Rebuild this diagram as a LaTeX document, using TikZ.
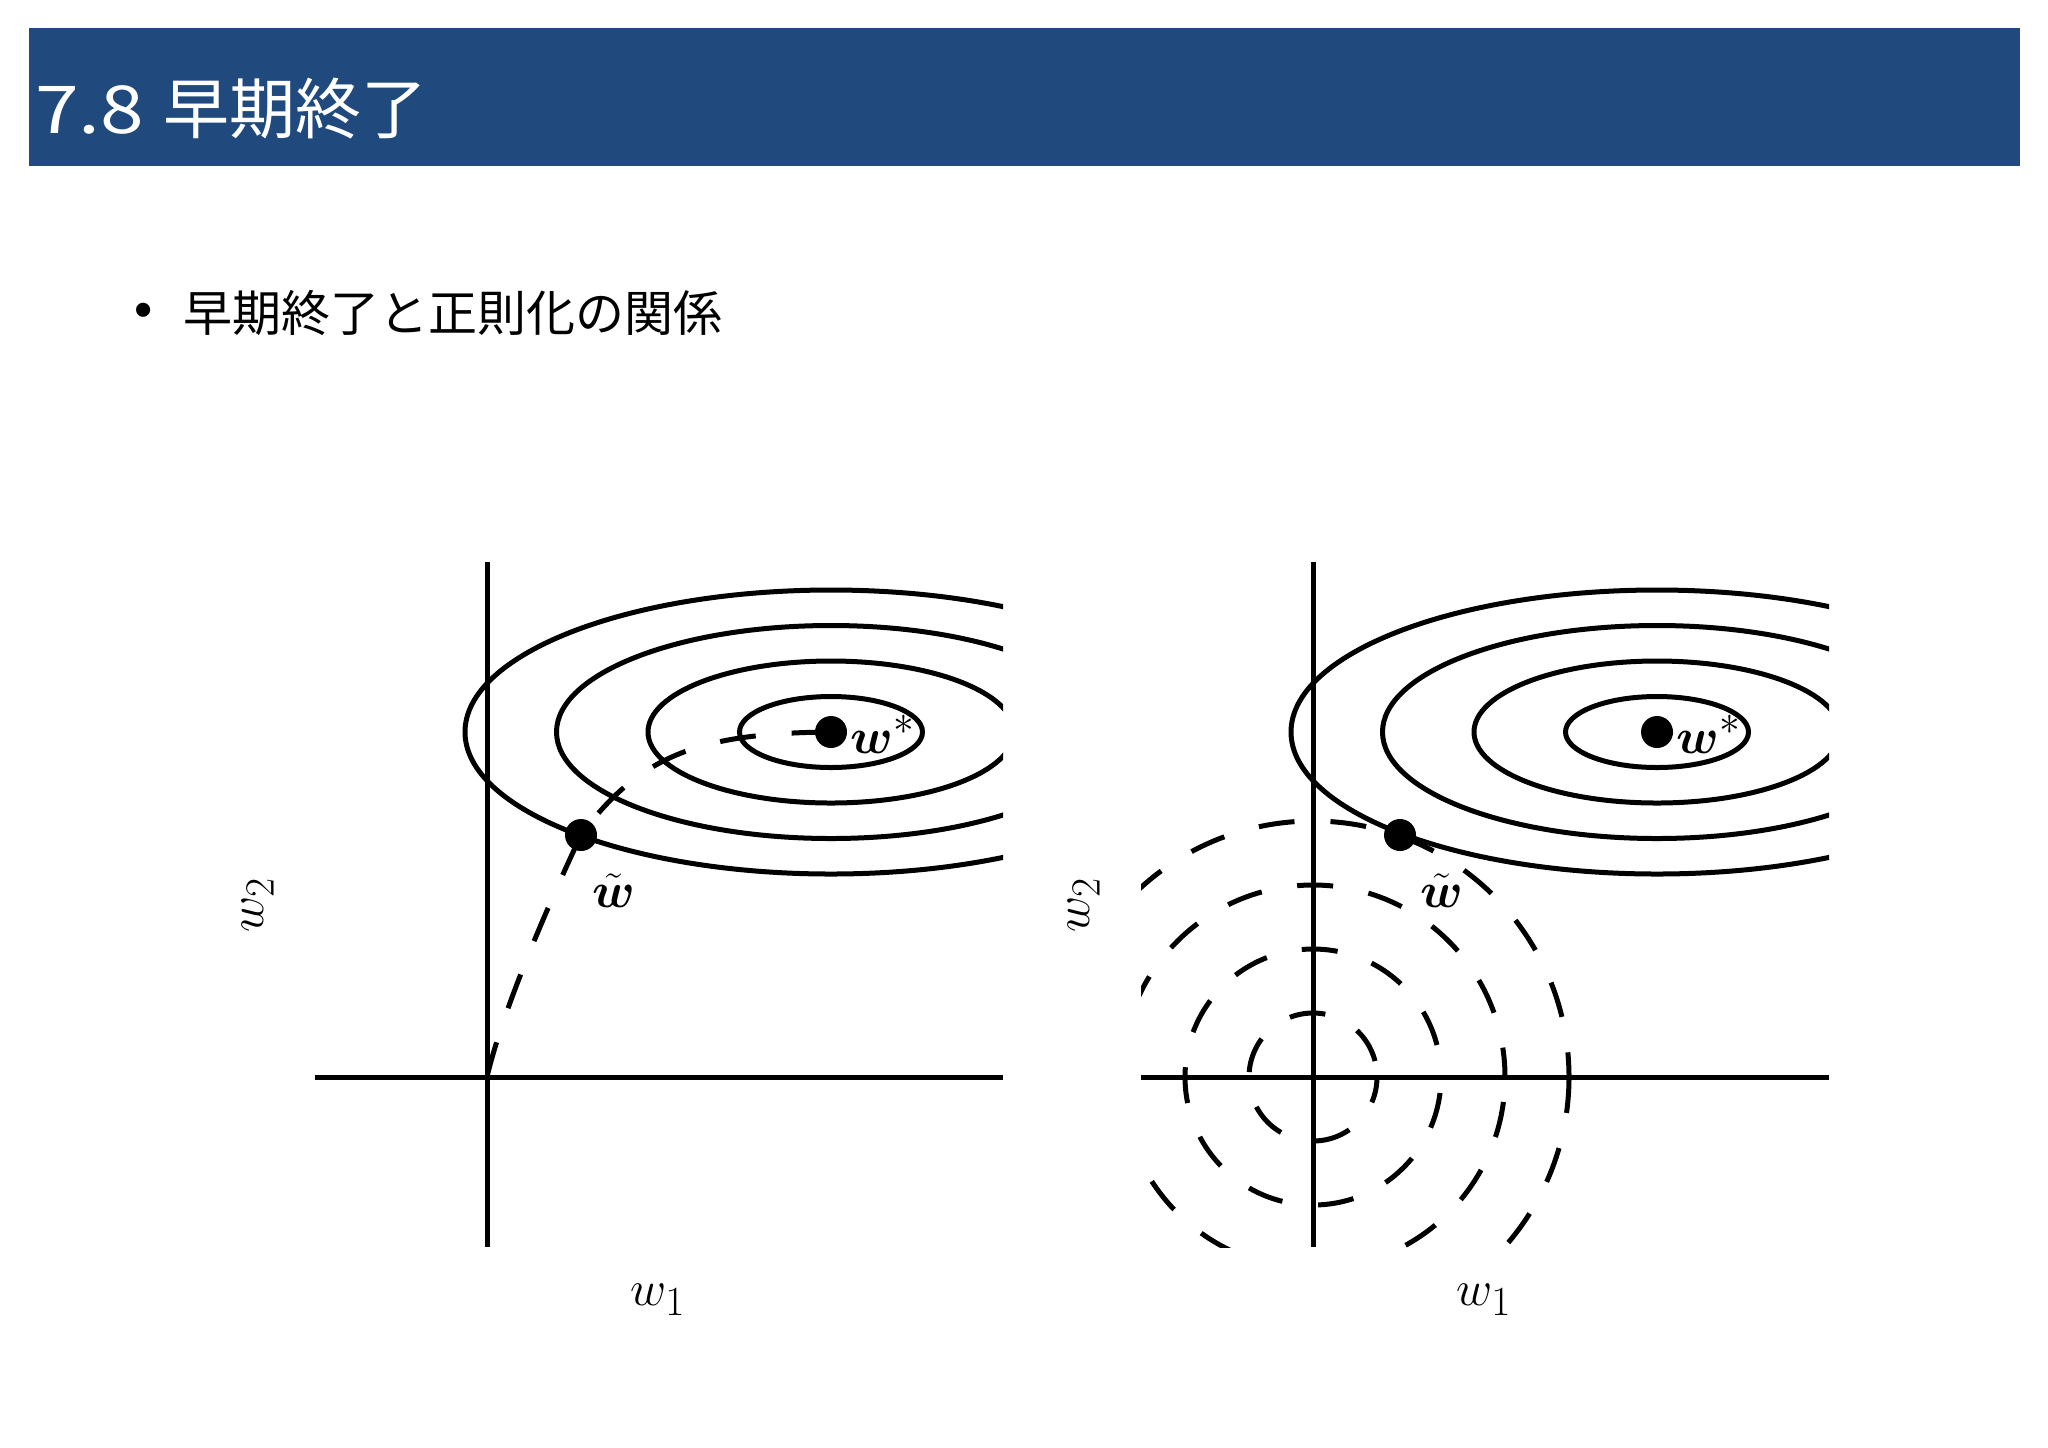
\documentclass[tikz,border=0pt]{standalone}
\usepackage{amsmath}
\usepackage{fontspec}
\newfontfamily\jpfont{Noto Sans CJK JP}
\newfontfamily\bulletfont{Liberation Sans}
\definecolor{hdrblue}{RGB}{32,74,125}
\tikzset{
  axisline/.style={line width=2.5pt, line cap=butt},
  contourline/.style={line width=2.5pt},
  trajline/.style={line width=2.5pt, dash pattern=on 18pt off 18pt},
  dashring/.style={line width=2.5pt, dash pattern=on 18pt off 18pt},
  wdot/.style={circle, fill=black, inner sep=0pt, minimum size=16pt},
  lbl/.style={inner sep=0pt, font=\fontsize{24.88}{30}\selectfont},
}
\begin{document}
\begin{tikzpicture}[x=0.5pt,y=-0.5pt]
\useasboundingbox (0,0) rectangle (2048,1447);
\fill[white] (0,0) rectangle (2048,1447);
% header
\fill[hdrblue] (29,28) rectangle (2020,166);
\node[anchor=base west, inner sep=0pt, text=white, font=\jpfont\fontsize{33}{40}\selectfont] (titlenum) at (35,133) {\scalebox{1.19}[1]{7.8}};
\node[anchor=base west, inner sep=0pt, text=white, font=\jpfont\fontsize{33}{40}\selectfont] (title) at (163,133) {早期終了};
\node[anchor=center, inner sep=0pt, font=\bulletfont\fontsize{26}{28}\selectfont] (bul) at (144,315) {•};
\node[anchor=base west, inner sep=0pt, font=\jpfont\fontsize{24.5}{30}\selectfont] (sub) at (183,331) {早期終了と正則化の関係};

% ---------- left plot ----------
\coordinate (oL) at (487,1077);
\coordinate (wtL) at (581,835);
\coordinate (wsL) at (831,732);
\begin{scope}
\clip (315,562) rectangle (1003,1247);
\foreach \k in {1,2,3,4}
  \draw[contourline] (wsL) ellipse [x radius={91.5*\k}, y radius={35.5*\k}];
\end{scope}
\draw[axisline] (487,562) -- (487,1247);
\draw[axisline] (315,1077) -- (1003,1077);
\draw[trajline] (oL) .. controls (505,1000) and (560,880) .. (wtL)
  .. controls (640,755) and (700,733) .. (wsL);
\node[wdot] (dotwtL) at (wtL) {};
\node[wdot] (dotwsL) at (wsL) {};
\node[lbl, anchor=base west] (labwsL) at (850,753) {$\boldsymbol{w}^*$};
\node[lbl, anchor=base] (labwtL) at (614,907) {$\tilde{\boldsymbol{w}}$};
\node[lbl, rotate=90] (labw2L) at (258,905) {$w_2$};
\node[lbl] (labw1L) at (658,1300) {$w_1$};

% ---------- right plot ----------
\coordinate (oR) at (1313,1077);
\coordinate (wtR) at (1400,835);
\coordinate (wsR) at (1657,732);
\begin{scope}
\clip (1141,562) rectangle (1829,1247);
\foreach \k in {1,2,3,4}
  \draw[contourline] (wsR) ellipse [x radius={91.5*\k}, y radius={35.5*\k}];
\draw[dashring, dash phase=5pt] (oR) circle [radius=64];
\draw[dashring, dash phase=28pt] (oR) circle [radius=128];
\draw[dashring, dash phase=23.5pt] (oR) circle [radius=192];
\draw[dashring, dash phase=0pt] (oR) circle [radius=256];
\end{scope}
\draw[axisline] (1313,562) -- (1313,1247);
\draw[axisline] (1141,1077) -- (1829,1077);
\node[wdot] (dotwtR) at (wtR) {};
\node[wdot] (dotwsR) at (wsR) {};
\node[lbl, anchor=base west] (labwsR) at (1676,753) {$\boldsymbol{w}^*$};
\node[lbl, anchor=base] (labwtR) at (1442,907) {$\tilde{\boldsymbol{w}}$};
\node[lbl, rotate=90] (labw2R) at (1084,905) {$w_2$};
\node[lbl] (labw1R) at (1484,1300) {$w_1$};
\end{tikzpicture}
\end{document}
